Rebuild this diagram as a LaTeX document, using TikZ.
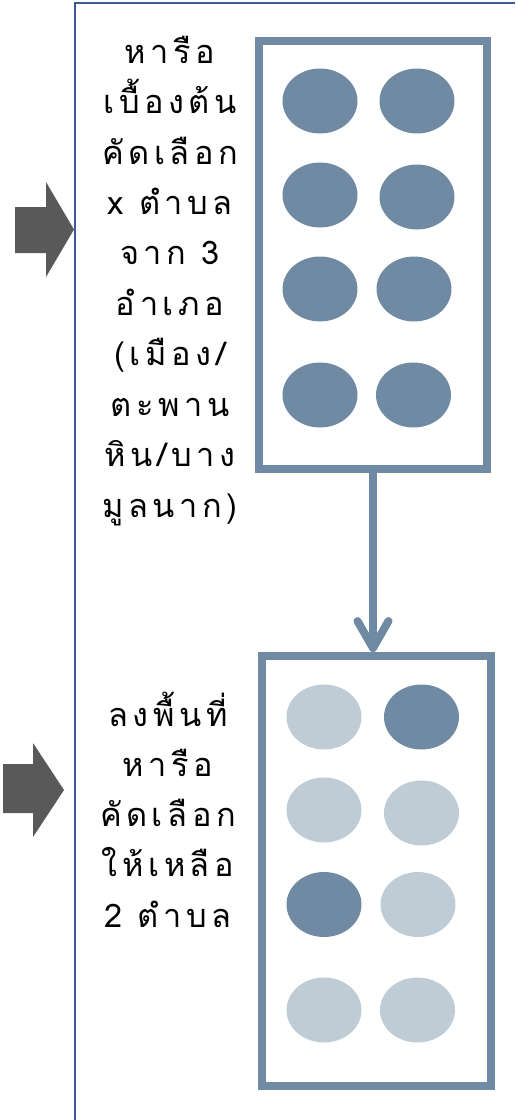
\documentclass[tikz,border=0pt]{standalone}
\usepackage{fontspec}
\newfontfamily\thaifont[Script=Thai,LetterSpace=14]{Loma}
\usetikzlibrary{positioning, arrows.meta, shapes.geometric}
\definecolor{slate}{HTML}{6F8AA2}
\definecolor{paleslate}{HTML}{BFCCD6}
\definecolor{frameblue}{HTML}{3B5B9A}
\definecolor{pointergray}{HTML}{595959}

\begin{document}
\begin{tikzpicture}[x=0.02cm, y=-0.02cm,
        tray/.style={rectangle, draw=slate, line width=0.16cm, inner sep=0pt},
        spot/.style={ellipse, fill=slate, inner sep=0pt, minimum width=1.5cm, minimum height=1.3cm},
        faint spot/.style={spot, fill=paleslate},
        note/.style={align=center, anchor=base, inner sep=0pt, font=\thaifont\fontsize{18.5}{28.7}\selectfont},
        flow/.style={-{Straight Barb[length=0.54cm, width=0.62cm, round]}, line width=0.16cm, draw=slate},
        frame/.style={draw=frameblue, line width=0.04cm},
        pointer/.style={fill=pointergray}
    ]
        \useasboundingbox (0,0) rectangle (515,1120);

        % pointers on the left
        \fill[pointer] (15,207) -- (46,207) -- (46,182) -- (74,229.5) -- (46,277) -- (46,253) -- (15,253) -- cycle;
        \fill[pointer] (3,764) -- (33,764) -- (33,743) -- (64,790) -- (33,837) -- (33,813) -- (3,813) -- cycle;
        \draw[frame] (74.5,1120) -- (74.5,3) -- (515,3);

        % notes (base = last line)
        \node[note] (topnote) at (170,517) {หารือ\\เบื้องต้น\\คัดเลือก\\x ตำบล\\จาก 3\\อำเภอ\\(เมือง/\\ตะพาน\\หิน/บาง\\มูลนาก)};
        \node[note, font=\thaifont\fontsize{18.5}{28.6}\selectfont] (botnote) at (168,927) {ลงพื้นที่\\หารือ\\คัดเลือก\\ให้เหลือ\\2 ตำบล};

        % trays
        \node[tray, minimum width=4.56cm, minimum height=8.56cm] (upper) at (373,255) {};
        \node[tray, minimum width=4.58cm, minimum height=8.6cm] (lower) at (376.5,871) {};

        \node[spot] (u1) at (320,101) {};
        \node[spot] (u2) at (417,101) {};
        \node[spot] (u3) at (320,195) {};
        \node[spot] (u4) at (417,197) {};
        \node[spot] (u5) at (320,289) {};
        \node[spot] (u6) at (414,289) {};
        \node[spot] (u7) at (320,395) {};
        \node[spot] (u8) at (413.5,395) {};

        \node[faint spot] (l1) at (324,717) {};
        \node[spot] (l2) at (421.5,717) {};
        \node[faint spot] (l3) at (324,810) {};
        \node[faint spot] (l4) at (421.5,813) {};
        \node[spot] (l5) at (324,904.5) {};
        \node[faint spot] (l6) at (418,904.5) {};
        \node[faint spot] (l7) at (324,1010) {};
        \node[faint spot] (l8) at (417.5,1010) {};

        \draw[flow] (upper.south) -- (upper.south |- lower.north);
    \end{tikzpicture}
\end{document}
